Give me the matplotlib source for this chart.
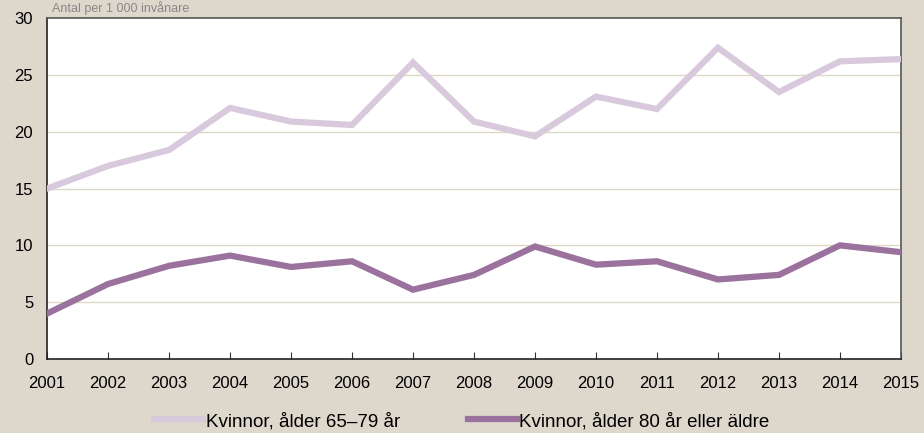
import matplotlib.pyplot as plt

years = list(range(2001, 2016))
women_65_79 = [15.0, 17.0, 18.4, 22.1, 20.9, 20.6, 26.1, 20.9, 19.6, 23.1, 22.0, 27.4, 23.5, 26.2, 26.4]
women_80_plus = [4.0, 6.6, 8.2, 9.1, 8.1, 8.6, 6.1, 7.4, 9.9, 8.3, 8.6, 7.0, 7.4, 10.0, 9.4]
labels = ["Kvinnor, ålder 65–79 år", "Kvinnor, ålder 80 år eller äldre"]
unit_text = "Antal per 1 000 invånare"

BG = "#ddd7cc"
LIGHT = "#d9c9dc"
DARK = "#9b719d"

plt.rcParams["font.family"] = ["Liberation Sans", "DejaVu Sans"]

fig = plt.figure(figsize=(9.24, 4.33), dpi=100, facecolor=BG)
ax = fig.add_axes([0.051, 0.171, 0.924, 0.787])
ax.set_facecolor("white")

for y in [5, 10, 15, 20, 25]:
    ax.axhline(y, color="#dcd8c6", linewidth=1.0, zorder=1)

l1, = ax.plot(years, women_65_79, color=LIGHT, linewidth=4.5, zorder=3, solid_joinstyle="miter")
l2, = ax.plot(years, women_80_plus, color=DARK, linewidth=4.5, zorder=3, solid_joinstyle="miter")

ax.set_xlim(2001, 2015)
ax.set_ylim(0, 30)
ax.set_xticks(years)
ax.set_yticks(range(0, 31, 5))
ax.tick_params(axis="x", direction="in", length=5, color="#333333", labelsize=12, pad=12)
ax.tick_params(axis="y", length=0, labelsize=12, pad=10)

for side in ["left", "bottom"]:
    ax.spines[side].set_color("#222222")
    ax.spines[side].set_linewidth(1.2)
for side in ["top", "right"]:
    ax.spines[side].set_color("#555555")
    ax.spines[side].set_linewidth(1.2)

# unit label sits in the thin strip above the plot
fig.text(0.056, 0.998, unit_text, fontsize=9, color="#888888", va="top")

fig.legend([l1, l2], labels, loc="center", bbox_to_anchor=(0.5, 0.027),
           ncol=2, frameon=False, fontsize=13.5, handlelength=2.6,
           columnspacing=3.6, handletextpad=0.15, borderpad=0)

fig.savefig("out.png", dpi=100, facecolor=BG)
